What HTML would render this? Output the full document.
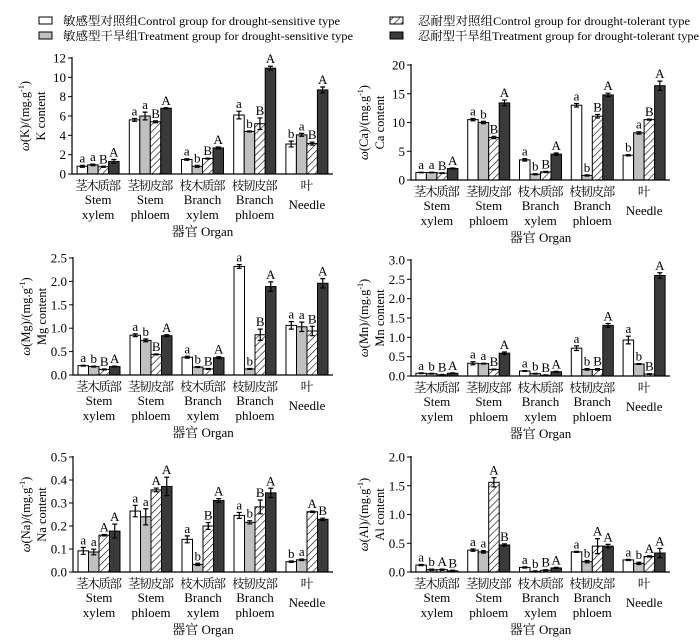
<!DOCTYPE html>
<html><head><meta charset="utf-8"><style>
html,body{margin:0;padding:0;background:#fff;}
svg{display:block;font-family:"Liberation Serif","Noto Serif CJK SC",serif;}
</style></head><body>
<svg id="fig" width="700" height="641" viewBox="0 0 700 641">
<defs>
<pattern id="hatch" patternUnits="userSpaceOnUse" width="5" height="5" patternTransform="rotate(45)">
<rect width="5" height="5" fill="#fff"/><line x1="0" y1="0" x2="0" y2="5" stroke="#000" stroke-width="1.2"/>
</pattern>
</defs>
<g id="legend">
<g><rect x="39" y="17" width="13" height="7" fill="#fff" stroke="#000"/><text x="63" y="25" font-size="12" textLength="277" lengthAdjust="spacingAndGlyphs">敏感型对照组Control group for drought-sensitive type</text></g>
<g><rect x="39" y="32" width="13" height="7" fill="#c0c0c0" stroke="#000"/><text x="63" y="40" font-size="12" textLength="290" lengthAdjust="spacingAndGlyphs">敏感型干旱组Treatment group for drought-sensitive type</text></g>
<g><rect x="390" y="17" width="13" height="7" fill="url(#hatch)" stroke="#000"/><text x="418" y="25" font-size="12" textLength="272" lengthAdjust="spacingAndGlyphs">忍耐型对照组Control group for  drought-tolerant type</text></g>
<g><rect x="390" y="32" width="13" height="7" fill="#3a3a3a" stroke="#000"/><text x="418" y="40" font-size="12" textLength="281" lengthAdjust="spacingAndGlyphs">忍耐型干旱组Treatment group for drought-tolerant type</text></g>
</g>
</svg>
<script>
const categoriesCN = ["茎木质部","茎韧皮部","枝木质部","枝韧皮部","叶"];
const categoriesEN = [["Stem","xylem"],["Stem","phloem"],["Branch","xylem"],["Branch","phloem"],["Needle"]];

const kValues = [[0.8,0.95,0.75,1.3],[5.6,6.0,5.4,6.8],[1.5,0.8,1.6,2.7],[6.1,4.4,5.2,10.95],[3.1,4.05,3.15,8.7]];
const kErrors = [[0.1,0.08,0.05,0.2],[0.15,0.4,0.1,0.05],[0.08,0.1,0.05,0.1],[0.4,0.05,0.6,0.2],[0.3,0.15,0.15,0.3]];
const kLetters = [["a","a","B","A"],["a","a","B","A"],["a","b","B","A"],["a","b","B","A"],["b","a","B","A"]];
const kTicks = [0,2,4,6,8,10,12];

const caValues = [[1.3,1.3,1.2,2.0],[10.5,10.0,7.4,13.4],[3.5,1.0,1.4,4.5],[13.0,0.8,11.1,14.8],[4.3,8.2,10.5,16.4]];
const caErrors = [[0.05,0.05,0.05,0.1],[0.2,0.2,0.2,0.5],[0.2,0.1,0.1,0.2],[0.3,0.1,0.3,0.3],[0.1,0.2,0.1,0.8]];
const caLetters = [["a","a","B","A"],["a","b","B","A"],["a","b","B","A"],["a","b","B","A"],["b","a","B","A"]];
const caTicks = [0,5,10,15,20];

const mgValues = [[0.2,0.18,0.12,0.18],[0.85,0.74,0.44,0.84],[0.38,0.17,0.13,0.37],[2.32,0.13,0.86,1.89],[1.06,1.03,0.94,1.96]];
const mgErrors = [[0.01,0.01,0.01,0.01],[0.03,0.03,0.01,0.02],[0.02,0.01,0.01,0.02],[0.04,0.01,0.12,0.1],[0.08,0.1,0.1,0.1]];
const mgLetters = [["a","b","B","A"],["a","b","B","A"],["a","b","B","A"],["a","b","B","A"],["a","a","B","A"]];
const mgTicks = ["0.0","0.5","1.0","1.5","2.0","2.5"];

const mnValues = [[0.07,0.06,0.03,0.07],[0.33,0.32,0.17,0.59],[0.13,0.06,0.02,0.11],[0.72,0.17,0.17,1.31],[0.93,0.31,0.05,2.6]];
const mnErrors = [[0.01,0.01,0.01,0.01],[0.04,0.01,0.01,0.03],[0.01,0.01,0.01,0.01],[0.06,0.02,0.02,0.05],[0.1,0.01,0.01,0.07]];
const mnLetters = [["a","b","B","A"],["a","a","B","A"],["a","b","B","A"],["a","b","B","A"],["a","b","B","A"]];
const mnTicks = ["0.0","0.5","1.0","1.5","2.0","2.5","3.0"];

const naValues = [[0.092,0.087,0.16,0.178],[0.265,0.24,0.357,0.372],[0.142,0.033,0.2,0.311],[0.246,0.216,0.283,0.344],[0.045,0.053,0.262,0.229]];
const naErrors = [[0.015,0.012,0.003,0.03],[0.025,0.035,0.008,0.04],[0.015,0.005,0.015,0.008],[0.013,0.007,0.03,0.02],[0.003,0.003,0.003,0.005]];
const naLetters = [["a","a","A","A"],["a","a","A","A"],["a","b","B","A"],["a","b","B","A"],["b","a","A","B"]];
const naTicks = ["0.0","0.1","0.2","0.3","0.4","0.5"];

const alValues = [[0.12,0.04,0.04,0.02],[0.38,0.35,1.56,0.47],[0.08,0.01,0.03,0.07],[0.35,0.18,0.45,0.45],[0.21,0.15,0.27,0.33]];
const alErrors = [[0.01,0.01,0.01,0.01],[0.02,0.02,0.08,0.02],[0.01,0.01,0.01,0.01],[0.01,0.02,0.13,0.03],[0.01,0.02,0.01,0.08]];
const alLetters = [["a","b","A","B"],["a","a","A","B"],["a","b","B","A"],["a","b","A","A"],["a","b","A","A"]];
const alTicks = ["0.0","0.5","1.0","1.5","2.0"];

const NS = "http://www.w3.org/2000/svg";
const svg = document.getElementById("fig");
const fills = ["#ffffff","#c0c0c0","url(#hatch)","#3a3a3a"];
const seriesNames = ["sensitive-control","sensitive-treatment","tolerant-control","tolerant-treatment"];
function mk(tag, attrs, parent){const e=document.createElementNS(NS,tag);for(const k in attrs)e.setAttribute(k,attrs[k]);(parent||svg).appendChild(e);return e;}

function panel(key, elem, values, errors, letters, ticks, x0, x1, yTop, yZero){
  const g = mk("g",{});
  
  
  const tv = ticks.map(Number);
  const vmax = tv[tv.length-1];
  const y = v => yZero - (v/vmax)*(yZero-yTop);
  const gw = (x1-x0)/5, bw = 10.5;
  values.forEach((grp,i)=>{
    const cx = x0 + gw*(i+0.5);
    grp.forEach((v,j)=>{
      const bx = cx - 2*bw + j*bw;
      const r = mk("rect",{x:bx,y:y(v),width:bw,height:yZero-y(v),fill:fills[j],stroke:"#000","stroke-width":1},g);
      
      
      const e = errors[i][j], mx = bx+bw/2;
      const eb = mk("path",{d:`M${mx},${y(v-e)}V${y(v+e)}M${mx-2.5},${y(v+e)}H${mx+2.5}M${mx-2.5},${y(v-e)}H${mx+2.5}`,stroke:"#000","stroke-width":1.2,fill:"none"},g);
      
      
      const t = mk("text",{x:mx,y:y(v+e)-3,"text-anchor":"middle","font-size":13},g);
      t.textContent = letters[i][j];
      
      
    });
    const cn = categoriesCN[i];
    const cattrs = {x:cx,y:yZero+16,"text-anchor":"middle","font-size":12.5};
    if (cn.length > 1) { cattrs.textLength = 46; cattrs.lengthAdjust = "spacing"; }
    const c = mk("text",cattrs,g);
    c.textContent = cn;
    
    
    const en = categoriesEN[i];
    en.forEach((w,k)=>{
      const ty = en.length===1 ? yZero+35 : yZero+30+k*15;
      const ct = mk("text",{x:cx,y:ty,"text-anchor":"middle","font-size":13},g);
      ct.textContent = w;
      
      
    });
  });
  const ax = mk("path",{d:`M${x0},${yTop-1}V${yZero}H${x1}`,stroke:"#000","stroke-width":1.2,fill:"none"},g);
  
  
  ticks.forEach((tk,i)=>{
    const ty = y(tv[i]);
    const tl = mk("line",{x1:x0-4,x2:x0,y1:ty,y2:ty,stroke:"#000","stroke-width":1},g);
    
    
    const tt = mk("text",{x:x0-6,y:ty+4.5,"text-anchor":"end","font-size":13},g);
    tt.textContent = tk;
    
    
  });
  const my = (yTop+yZero)/2;
  const t1 = mk("text",{x:0,y:0,"text-anchor":"middle","font-size":12.5,transform:`translate(${x0-43},${my}) rotate(-90)`},g);
  t1.innerHTML = `<tspan font-style="italic">ω</tspan>(${elem})/(mg.g<tspan dy="-5" font-size="8">-1</tspan><tspan dy="5">)</tspan>`;
  
  
  const t2 = mk("text",{x:0,y:0,"text-anchor":"middle","font-size":12.5,transform:`translate(${x0-27},${my}) rotate(-90)`},g);
  t2.textContent = elem+" content";
  
  
  const xt = mk("text",{x:(x0+x1)/2,y:yZero+62,"text-anchor":"middle","font-size":13},g);
  xt.textContent = "器官 Organ";
  
  
}
panel("k","K",kValues,kErrors,kLetters,kTicks,72,333,58,174);
panel("ca","Ca",caValues,caErrors,caLetters,caTicks,411,670,65,180);
panel("mg","Mg",mgValues,mgErrors,mgLetters,mgTicks,73,333,258,375);
panel("mn","Mn",mnValues,mnErrors,mnLetters,mnTicks,411,670,260,376);
panel("na","Na",naValues,naErrors,naLetters,naTicks,73,333,457,572);
panel("al","Al",alValues,alErrors,alLetters,alTicks,411,670,457,572);
</script>
</body></html>
